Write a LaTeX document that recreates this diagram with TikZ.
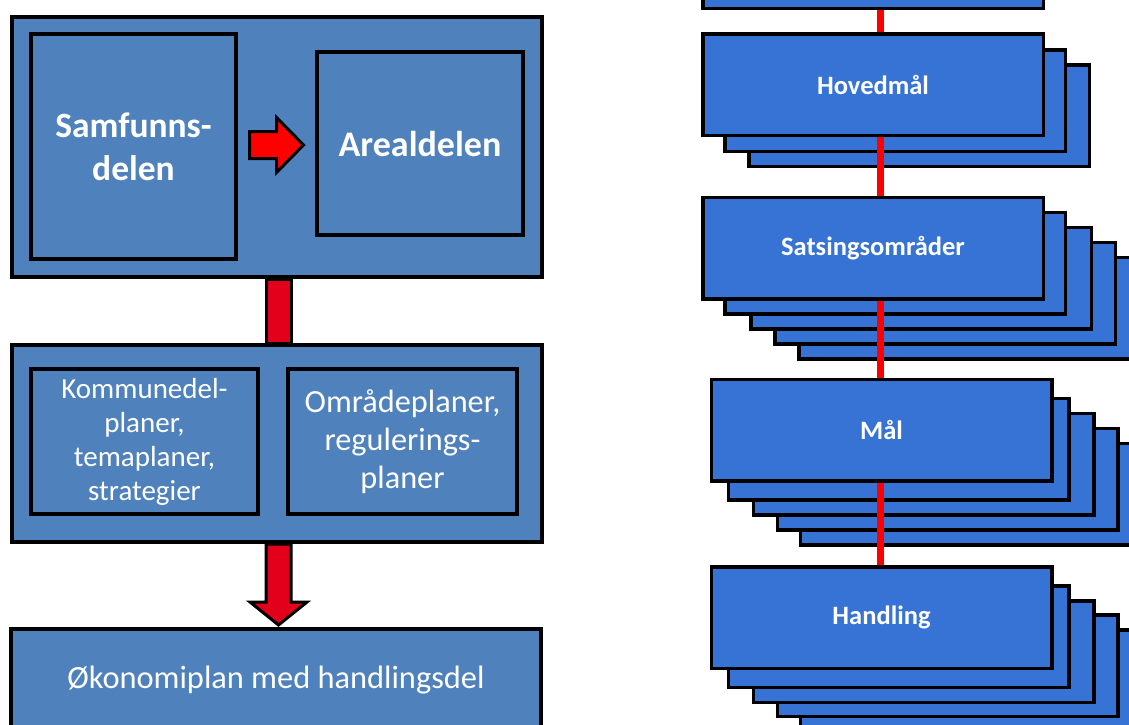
\documentclass[tikz,border=0pt]{standalone}
\usepackage{fontspec}
\setmainfont{Carlito}
\usepackage{tikz}
\usetikzlibrary{calc,backgrounds}

\definecolor{planblue}{HTML}{4F81BD}
\definecolor{goalblue}{HTML}{3673D5}
\definecolor{barred}{HTML}{E2001A}

\tikzset{
  planbox/.style={draw=black, line width=4pt, fill=planblue, text=white, inner sep=0pt, align=center},
  goalbox/.style={draw=black, line width=3.5pt, fill=goalblue, text=white, inner sep=0pt, outer sep=0pt,
    align=center, minimum width=340.5pt, minimum height=101.5pt, font=\fontsize{26.5}{32}\selectfont\bfseries},
  goallayer/.style={draw=black, line width=3.5pt, fill=goalblue},
  redbar/.style={draw=black, line width=3pt, fill=barred},
  redline/.style={draw=red, line width=7pt},
}

\begin{document}
\begin{tikzpicture}[x=1pt,y=-1pt]
  \path[use as bounding box] (0,0) rectangle (1129,724);

  % left: kommuneplan
  \node[planbox, minimum width=530pt, minimum height=260pt] (kp) at (277,147) {};
  \node[planbox, minimum width=205pt, minimum height=225pt, font=\fontsize{35.5}{43}\selectfont\bfseries]
    (samf) at (133.5,146.5) {Samfunns-\\delen};
  \node[planbox, minimum width=206pt, minimum height=183pt, font=\fontsize{36}{43}\selectfont\bfseries]
    (areal) at (420,143.5) {Arealdelen};
  \coordinate (pil) at ($(samf.east)!0.5!(areal.west)$);
  \draw[fill=red, draw=black, line width=3pt, shift={(pil)}]
    (-27,-13.5) -- (0,-13.5) -- (0,-27.5) -- (27,0) -- (0,27.5) -- (0,13.5) -- (-27,13.5) -- cycle;

  \node[planbox, minimum width=530pt, minimum height=197pt] (mid) at (277,443.5) {};
  \node[planbox, minimum width=227pt, minimum height=145pt, font=\fontsize{29}{34}\selectfont]
    (komm) at (144.5,441.5) {Kommunedel-\\planer,\\temaplaner,\\strategier};
  \node[planbox, minimum width=229pt, minimum height=145pt, font=\fontsize{32.3}{38}\selectfont]
    (omr) at (402.5,441.5) {Områdeplaner,\\regulerings-\\planer};

  \node[planbox, minimum width=530pt, minimum height=102pt, font=\fontsize{32.4}{38}\selectfont]
    (okon) at (276,680) {Økonomiplan med handlingsdel};

  \draw[redbar] ($(kp.south)+(-11,0)$) rectangle ($(mid.north)+(14,0)$);
  \draw[redbar, shift={(mid.south)}]
    (-11,0) -- (-11,58) -- (-27,58) -- (1.5,81) -- (30,58) -- (14,58) -- (14,0) -- cycle;

  % right: maal
  \node[goalbox] (prev) at (873,-42.5) {};
  \node[goalbox] (hoved) at (873,84.5) {Hovedmål};
  \node[goalbox] (sats) at (873,248) {Satsingsområder};
  \node[goalbox] (maal) at (881.5,430) {Mål};
  \node[goalbox] (handl) at (881.5,617.5) {Handling};

  \begin{scope}[on background layer]
    \foreach \dx/\dy in {46/31, 22/16}
      \draw[goallayer] ($(hoved.north west)+(\dx,\dy)$) rectangle ($(hoved.south east)+(\dx,\dy)$);
    \foreach \dx/\dy in {96/60, 72/45, 48/30, 22/15}
      \draw[goallayer] ($(sats.north west)+(\dx,\dy)$) rectangle ($(sats.south east)+(\dx,\dy)$);
    \foreach \dx/\dy in {89/64, 66/49, 42/34, 17/19}
      \draw[goallayer] ($(maal.north west)+(\dx,\dy)$) rectangle ($(maal.south east)+(\dx,\dy)$);
    \foreach \dx/\dy in {89/63, 66/48, 42/34, 17/19}
      \draw[goallayer] ($(handl.north west)+(\dx,\dy)$) rectangle ($(handl.south east)+(\dx,\dy)$);
    \coordinate (lx) at (880,0);
    \foreach \a/\b in {prev/hoved, hoved/sats, sats/maal, maal/handl}
      \draw[redline] (\a.south -| lx) -- (\b.north -| lx);
  \end{scope}
\end{tikzpicture}
\end{document}
